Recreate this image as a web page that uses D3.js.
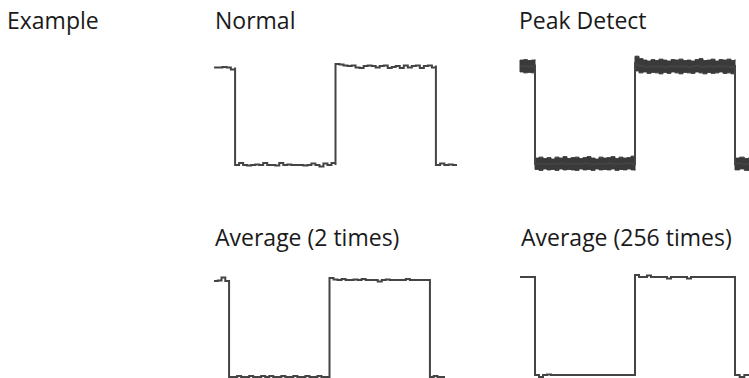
<!DOCTYPE html>
<html>
<head>
<meta charset="utf-8">
<script src="https://cdn.jsdelivr.net/npm/d3@7"></script>
<style>
  html, body { margin: 0; padding: 0; background: #fff; }
  svg { display: block; }
  text { font-family: "Open Sans", "Noto Sans", sans-serif; font-size: 23px; fill: #1a1a1a; }
</style>
</head>
<body>
<svg id="chart" width="749" height="378"></svg>
<script>
// ---------------- DATA ----------------
// Titles
const rowLabel = "Example";
const panelTitles = ["Normal", "Peak Detect", "Average (2 times)", "Average (256 times)"];

// Time of edges, in half-periods (fall at 0, rise at 1, fall at 2)
const normalTimes  = [-0.21, 0, 1, 2, 2.21];
const peakTimes    = [-0.15, 0, 1, 2, 2.14];
const avg2Times    = [-0.15, 0, 1, 2, 2.15];
const avg256Times  = [-0.15, 0, 1, 2, 2.14];

// Normal acquisition: sampled levels (V) per segment (high, low, high, low)
const normalHigh1 = [0.97, 0.97, 0.98, 0.97, 0.93, 0.97];
const normalLow1  = [-1.0, -0.96, -1.0, -1.01, -1.0, -0.99, -1.0, -0.96, -1.0, -1.0, -1.01, -0.96, -1.0,
                     -0.99, -1.0, -1.0, -1.0, -1.01, -1.0, -0.97, -1.0, -1.03, -0.97, -1.0, -0.96, -1.0];
const normalHigh2 = [1.04, 1.03, 1.01, 1.0, 1.01, 0.97, 0.96, 1.0, 1.01, 1.0, 0.97, 1.0, 1.01,
                     0.96, 0.98, 1.0, 0.96, 1.01, 0.97, 1.0, 1.01, 0.96, 1.0, 1.01, 0.97, 1.01];
const normalLow2  = [-1.0, -0.97, -1.0, -0.99, -1.0, -1.0];

// Peak detect: upper / lower envelopes (V) per segment
const peakHigh1Up = [1.12, 1.13, 1.11, 1.12, 1.13];
const peakHigh1Lo = [0.88, 0.86, 0.87, 0.86, 0.88];
const peakLow1Up  = [-0.88, -0.86, -0.89, -0.87, -0.90, -0.86, -0.88, -0.85, -0.89, -0.87, -0.86, -0.89, -0.87,
                     -0.85, -0.88, -0.90, -0.86, -0.88, -0.87, -0.85, -0.89, -0.86, -0.88, -0.87, -0.84, -0.88];
const peakLow1Lo  = [-1.11, -1.13, -1.10, -1.12, -1.11, -1.13, -1.10, -1.12, -1.11, -1.12, -1.13, -1.10, -1.12,
                     -1.11, -1.13, -1.10, -1.12, -1.11, -1.12, -1.10, -1.13, -1.11, -1.12, -1.10, -1.12, -1.13];
const peakHigh2Up = [1.20, 1.15, 1.12, 1.10, 1.13, 1.11, 1.14, 1.12, 1.10, 1.13, 1.12, 1.14, 1.11,
                     1.12, 1.10, 1.13, 1.15, 1.11, 1.12, 1.14, 1.10, 1.13, 1.12, 1.14, 1.11, 1.13];
const peakHigh2Lo = [0.90, 0.86, 0.88, 0.85, 0.87, 0.86, 0.84, 0.87, 0.85, 0.88, 0.86, 0.84, 0.87,
                     0.86, 0.85, 0.88, 0.86, 0.84, 0.87, 0.85, 0.86, 0.88, 0.85, 0.86, 0.84, 0.87];
const peakLow2Up  = [-0.88, -0.86, -0.89, -0.87];
const peakLow2Lo  = [-1.12, -1.10, -1.13, -1.11];

// Average (2 times)
const avg2High1 = [0.98, 0.99, 1.05, 0.98, 0.98];
const avg2Low1  = [-1.0, -1.0, -0.98, -1.0, -1.0, -0.98, -1.0, -1.0, -0.98, -1.0, -0.98, -1.0, -1.0,
                   -0.98, -1.0, -1.0, -0.98, -1.0, -1.0, -0.98, -1.0, -1.0, -0.98, -1.0, -1.0, -1.0];
const avg2High2 = [1.04, 1.01, 1.0, 1.02, 1.0, 1.0, 1.01, 1.0, 1.02, 1.0, 1.0, 1.0, 0.97,
                   1.0, 1.01, 1.0, 1.0, 1.0, 1.0, 1.02, 1.0, 1.0, 1.0, 1.0, 1.0, 1.0];
const avg2Low2  = [-1.0, -0.98, -1.0, -1.0, -1.0];

// Average (256 times)
const avg256High1 = [1.0, 1.0, 1.0, 1.0, 1.0];
const avg256Low1  = [-1.0, -1.04, -1.0, -0.99, -1.0, -1.0, -1.0, -1.0, -1.0, -1.0, -1.0, -1.0, -1.0,
                     -1.0, -1.0, -1.0, -1.0, -1.0, -1.0, -1.0, -1.0, -1.0, -1.0, -1.0, -1.0, -1.0];
const avg256High2 = [1.04, 1.0, 1.0, 1.03, 1.0, 1.0, 1.0, 1.0, 0.97, 1.0, 1.0, 1.0, 1.0,
                     0.97, 1.0, 1.0, 1.0, 1.0, 1.0, 1.0, 1.0, 1.0, 1.0, 1.0, 1.0, 1.0];
const avg256Low2  = [-1.0, -1.04, -1.0, -1.0];

// ---------------- DRAWING ----------------
const svg = d3.select("#chart");
const ink = "#444";

function samplesOf(times, segs) {
  const pts = [];
  segs.forEach((arr, i) => {
    const t0 = times[i], t1 = times[i + 1];
    const n = arr.length;
    arr.forEach((v, j) => pts.push({ t: t0 + (t1 - t0) * j / (n - 1), v: v }));
  });
  return pts;
}

function makePanel(times, xRange, yRange) {
  const x = d3.scaleLinear().domain([times[0], times[times.length - 1]]).range(xRange);
  const y = d3.scaleLinear().domain([-1, 1]).range(yRange);
  return { x, y };
}

function drawTrace(times, segs, xRange, yRange) {
  const { x, y } = makePanel(times, xRange, yRange);
  const pts = samplesOf(times, segs);
  const line = d3.line().x(d => x(d.t)).y(d => y(d.v)).curve(d3.curveStepAfter);
  svg.append("path").datum(pts).attr("d", line)
    .attr("fill", "none").attr("stroke", ink).attr("stroke-width", 2)
    .attr("stroke-linejoin", "miter");
}

function drawEnvelope(times, upSegs, loSegs, xRange, yRange) {
  const { x, y } = makePanel(times, xRange, yRange);
  const g = svg.append("g");
  upSegs.forEach((up, i) => {
    const lo = loSegs[i];
    const t0 = times[i], t1 = times[i + 1], n = up.length;
    const pts = up.map((u, j) => ({ t: t0 + (t1 - t0) * j / (n - 1), u: u, l: lo[j] }));
    const area = d3.area().x(d => x(d.t)).y0(d => y(d.l)).y1(d => y(d.u)).curve(d3.curveStepAfter);
    g.append("path").datum(pts).attr("d", area)
      .attr("fill", "#3a3a3a").attr("stroke", "#3a3a3a").attr("stroke-width", 1);
  });
  // mid trace for the edges
  const mids = upSegs.map((up, i) => up.map((u, j) => (u + loSegs[i][j]) / 2));
  const pts = samplesOf(times, mids);
  const line = d3.line().x(d => x(d.t)).y(d => y(d.v));
  g.append("path").datum(pts).attr("d", line)
    .attr("fill", "none").attr("stroke", ink).attr("stroke-width", 2);
}

drawTrace(normalTimes, [normalHigh1, normalLow1, normalHigh2, normalLow2], [214, 457], [165, 66]);
drawEnvelope(peakTimes, [peakHigh1Up, peakLow1Up, peakHigh2Up, peakLow2Up],
             [peakHigh1Lo, peakLow1Lo, peakHigh2Lo, peakLow2Lo], [520, 749], [164, 66]);
drawTrace(avg2Times, [avg2High1, avg2Low1, avg2High2, avg2Low2], [214, 445], [377, 280]);
drawTrace(avg256Times, [avg256High1, avg256Low1, avg256High2, avg256Low2], [520, 749], [375, 277]);

// Labels
svg.append("text").attr("x", 7).attr("y", 28.5).text(rowLabel);
const titlePos = [[215, 28.5], [519, 28.5], [215, 245.5], [521, 245.5]];
panelTitles.forEach((t, i) => {
  svg.append("text").attr("x", titlePos[i][0]).attr("y", titlePos[i][1]).text(t);
});
</script>
</body>
</html>
